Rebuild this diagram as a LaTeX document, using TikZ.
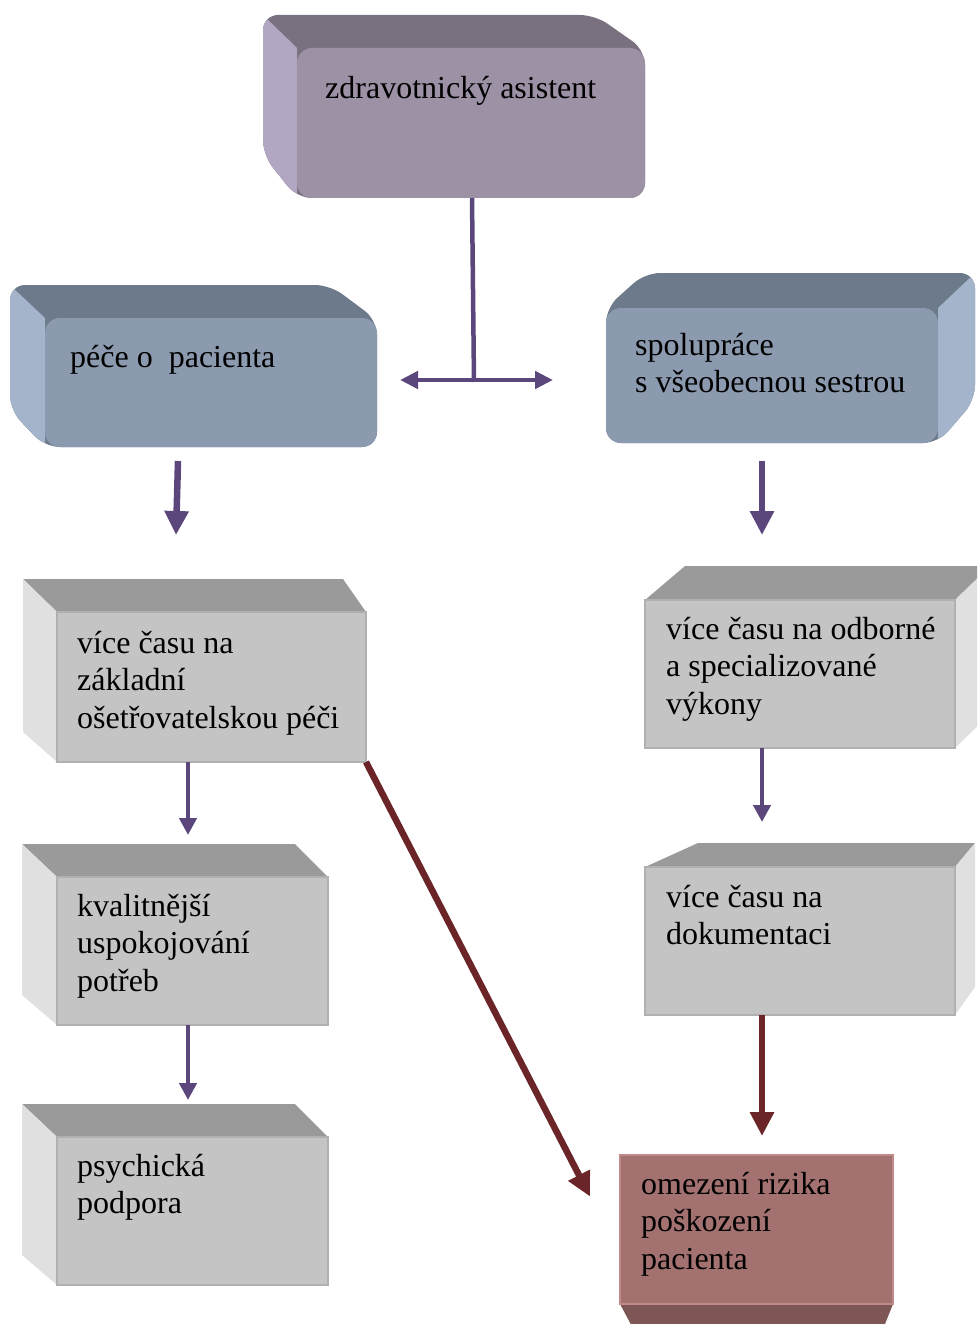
\documentclass[tikz,border=0pt]{standalone}
\usepackage{fontspec}
\setmainfont{Liberation Serif}
\usetikzlibrary{arrows.meta,calc}

% face colours of the solid boxes
\definecolor{purTop}{HTML}{797080}
\definecolor{purFront}{HTML}{9C91A5}
\definecolor{purSide}{HTML}{B2A7C3}
\definecolor{bluTop}{HTML}{6D7A8B}
\definecolor{bluFront}{HTML}{8B9AAE}
\definecolor{bluSide}{HTML}{A3B4CB}
\definecolor{gryTop}{HTML}{9A9A9A}
\definecolor{gryFront}{HTML}{C4C4C4}
\definecolor{grySide}{HTML}{E0E0E0}
\definecolor{gryEdge}{HTML}{B0B0B0}
\definecolor{redFront}{HTML}{A3716F}
\definecolor{redBottom}{HTML}{7E5655}
\definecolor{redEdge}{HTML}{C08A88}
% connector colours
\definecolor{arrPur}{HTML}{5C477D}
\definecolor{arrRed}{HTML}{6B2427}

\newcommand\boxlabelfont{\fontsize{32pt}{37.5pt}\selectfont}

\tikzset{
  face/.style={inner sep=0pt, outer sep=0pt, anchor=north west},
  roundface/.style={face, rounded corners=15pt},
  gryface/.style={face, fill=gryFront, draw=gryEdge, line width=1.2pt},
  redface/.style={face, fill=redFront, draw=redEdge, line width=1.5pt},
  % align=left widens word spaces; restore the font's own word space
  lbl/.style={anchor=north west, inner sep=0pt, text width=420pt, align=left,
              font=\boxlabelfont,
              execute at begin node={\spaceskip=0.25em\relax\xspaceskip=0.25em\relax}},
  bigarr/.style={line width=6.5pt, -{Triangle[length=24pt,width=23pt]}},
  smallarr/.style={line width=4.5pt, -{Triangle[length=17pt,width=17pt]}},
  splitarr/.style={line width=4.5pt, -{Triangle[length=18pt,width=17pt]}},
}

\begin{document}
\begin{tikzpicture}[x=1pt,y=-1pt]
\useasboundingbox (0,0) rectangle (977,1324);
\clip (0,0) rectangle (977,1324);

% ---- zdravotnicky asistent (rounded purple block)
\begin{scope}
  \path[clip, rounded corners=15pt] (263,15) -- (595,15) -- (645,50) -- (645,198)
        -- (297,198) -- (263,155) -- cycle;
  \fill[purTop] (250,0) rectangle (660,210);
  \fill[purSide] (263,15) -- (297,48) -- (297,198) -- (250,198) -- (250,15) -- cycle;
\end{scope}
\node[roundface, fill=purFront, minimum width=348pt, minimum height=150pt] (za) at (297,48) {};

% ---- pece o pacienta (rounded blue block, depth to the left)
\begin{scope}
  \path[clip, rounded corners=15pt] (10,285) -- (330,285) -- (377,320) -- (377,447)
        -- (45,447) -- (10,410) -- cycle;
  \fill[bluTop] (0,270) rectangle (390,460);
  \fill[bluSide] (10,285) -- (45,318) -- (45,447) -- (0,447) -- (0,285) -- cycle;
\end{scope}
\node[roundface, fill=bluFront, minimum width=332pt, minimum height=129pt] (pece) at (45,318) {};

% ---- spoluprace (rounded blue block, depth to the right)
\begin{scope}
  \path[clip, rounded corners=15pt] (606,308) -- (645,273) -- (975,273) -- (975,400)
        -- (938,443) -- (606,443) -- cycle;
  \fill[bluTop] (590,260) rectangle (977,460);
  \fill[bluSide] (938,308) -- (975,273) -- (977,273) -- (977,443) -- (938,443) -- cycle;
\end{scope}
\node[roundface, fill=bluFront, minimum width=332pt, minimum height=135pt] (spol) at (606,308) {};

% ---- grey blocks, left column
\fill[gryTop]  (23,579) -- (343,579) -- (366,612) -- (57,612) -- cycle;
\fill[grySide] (23,579) -- (57,612) -- (57,762) -- (23,732) -- cycle;
\node[gryface, minimum width=309pt, minimum height=150pt] (zakl) at (57,612) {};

\fill[gryTop]  (22,844) -- (295,844) -- (328,877) -- (57,877) -- cycle;
\fill[grySide] (22,844) -- (57,877) -- (57,1025) -- (22,995) -- cycle;
\node[gryface, minimum width=271pt, minimum height=148pt] (kval) at (57,877) {};

\fill[gryTop]  (22,1104) -- (295,1104) -- (328,1137) -- (57,1137) -- cycle;
\fill[grySide] (22,1104) -- (57,1137) -- (57,1285) -- (22,1255) -- cycle;
\node[gryface, minimum width=271pt, minimum height=148pt] (psych) at (57,1137) {};

% ---- grey blocks, right column
\fill[gryTop]  (645,600) -- (685,566) -- (990,566) -- (955,600) -- cycle;
\fill[grySide] (955,600) -- (990,566) -- (990,714) -- (955,748) -- cycle;
\node[gryface, minimum width=310pt, minimum height=148pt] (odb) at (645,600) {};

\fill[gryTop]  (645,867) -- (698,843) -- (975,843) -- (955,867) -- cycle;
\fill[grySide] (955,867) -- (975,843) -- (975,987) -- (955,1015) -- cycle;
\node[gryface, minimum width=310pt, minimum height=148pt] (dok) at (645,867) {};

% ---- result block (seen from below)
\fill[redBottom] (620,1304) -- (893,1304) -- (881,1334) -- (636,1334) -- cycle;
\node[redface, minimum width=273pt, minimum height=149pt] (omez) at (620,1155) {};

% ---- labels
\node[lbl] (za-t)    at (325,71.75)   {\strut zdravotnický asistent};
\node[lbl] (pece-t)  at (70,340.75)   {\strut péče o\ \ pacienta};
\node[lbl] (spol-t)  at (635,328.75)  {\strut spolupráce\\s všeobecnou sestrou};
\node[lbl] (zakl-t)  at (77,626.75)   {\strut více času na\\základní\\ošetřovatelskou péči};
\node[lbl] (odb-t)   at (666,612.75)  {\strut více času na odborné\\a specializované\\výkony};
\node[lbl] (kval-t)  at (77,889.75)   {\strut kvalitnější\\uspokojování\\potřeb};
\node[lbl] (dok-t)   at (666,880.75)  {\strut více času na\\dokumentaci};
\node[lbl] (psych-t) at (77,1149.75)  {\strut psychická\\podpora};
\node[lbl] (omez-t)  at (641,1167.75) {\strut omezení rizika\\poškození\\pacienta};

% ---- connectors
\coordinate (split) at ($(za.south)+(3,182)$);
\coordinate (splitL) at ($(split)+(-74,0)$);
\coordinate (splitR) at ($(split)+(79,0)$);
\draw[arrPur, line width=4.5pt] ($(za.south)+(1,0)$) -- ($(split)+(0,2)$);
\draw[arrPur, splitarr] (split) -- (splitL);
\draw[arrPur, splitarr] (split) -- (splitR);

\draw[arrPur, bigarr] ($(pece.south)+(-33,14)$) -- ($(zakl.north)+(-35.5,-77)$);
\draw[arrPur, bigarr] ($(spol.south)+(-10,18)$) -- ($(odb.north)+(-38,-65)$);
\draw[arrPur, smallarr] ($(zakl.south)+(-23.5,0)$) -- ($(kval.north)+(-4.5,-42)$);
\draw[arrPur, smallarr] ($(kval.south)+(-4.5,0)$) -- ($(psych.north)+(-4.5,-37)$);
\draw[arrPur, smallarr] ($(odb.south)+(-38,0)$) -- ($(dok.north)+(-38,-45)$);
\draw[arrRed, bigarr] ($(dok.south)+(-38,0)$) -- ($(omez.north)+(5.5,-19)$);
\draw[arrRed, bigarr] (zakl.south east) -- ($(omez.west)+(-30,-33)$);
\end{tikzpicture}
\end{document}
